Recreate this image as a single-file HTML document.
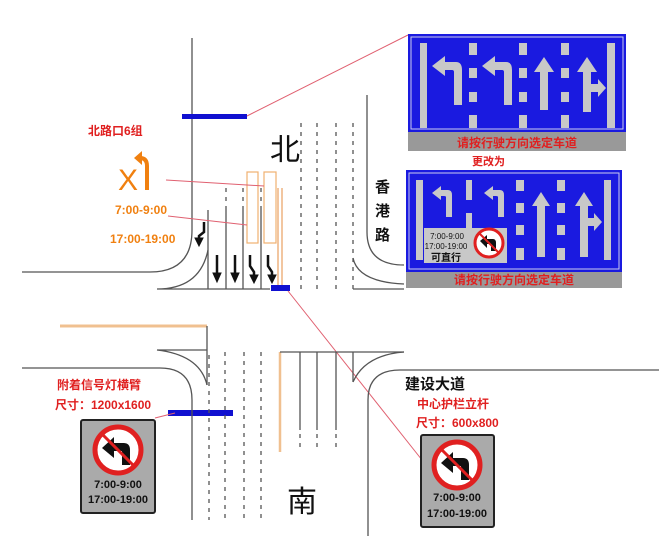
<!DOCTYPE html>
<html><head><meta charset="utf-8"><style>
html,body{margin:0;padding:0;background:#fff;}
svg{display:block;}
text{font-family:"Liberation Sans","Noto Sans CJK SC",sans-serif;}
.k{fill:none;stroke:#555;stroke-width:1.3}
.d{fill:none;stroke:#555;stroke-width:1.3;stroke-dasharray:4 5}
</style></head><body>
<svg width="659" height="536" viewBox="0 0 659 536" xmlns="http://www.w3.org/2000/svg">
<!-- North road -->
<path class="k" d="M192 38 V230 Q192 272 150 272 H22"/>
<path class="k" d="M208 250 Q200 289 157 289 H270"/>
<line class="k" x1="208" y1="210" x2="208" y2="289"/>
<line class="k" x1="226" y1="210" x2="226" y2="289"/>
<line class="k" x1="243" y1="210" x2="243" y2="289"/>
<line class="k" x1="261" y1="210" x2="261" y2="289"/>
<line class="d" x1="226" y1="188" x2="226" y2="210"/>
<line class="d" x1="243" y1="188" x2="243" y2="210"/>
<line class="d" x1="261" y1="188" x2="261" y2="210"/>
<line x1="278" y1="188" x2="278" y2="289" stroke="#e8a060" stroke-width="1.2"/>
<line x1="282" y1="188" x2="282" y2="289" stroke="#e8a060" stroke-width="1.2"/>
<rect x="247" y="172" width="11" height="71" fill="none" stroke="#f0b070" stroke-width="1.2"/>
<rect x="264" y="172" width="12" height="71" fill="none" stroke="#f0b070" stroke-width="1.2"/>
<line class="d" x1="301" y1="123" x2="301" y2="290"/>
<line class="d" x1="317" y1="123" x2="317" y2="290"/>
<line class="d" x1="336" y1="123" x2="336" y2="290"/>
<line class="d" x1="353" y1="123" x2="353" y2="290"/>
<path class="k" d="M367 95 V232 Q367 265 404 265"/>
<path class="k" d="M353 258 Q358 282 404 284"/>
<line class="k" x1="353" y1="289" x2="404" y2="289"/>
<!-- lane arrows -->
<g fill="#111" stroke="#111">
<path d="M217 255 V275" stroke-width="2.5"/><path d="M213 273 L217 282 L221 273Z"/>
<path d="M235 255 V275" stroke-width="2.5"/><path d="M231 273 L235 282 L239 273Z"/>
<path d="M250 255 V266 L254 272 V277" stroke-width="2.5" fill="none"/><path d="M250 275 L254 283 L258 275Z"/>
<path d="M268 255 V266 L272 272 V277" stroke-width="2.5" fill="none"/><path d="M268 275 L272 283 L276 275Z"/>
<path d="M204 222 V232 L199 236 V240" stroke-width="2.5" fill="none"/><path d="M195 238 L199 246 L203 238Z"/>
</g>
<!-- blue bars -->
<rect x="182" y="114" width="65" height="5" fill="#1010d0"/>
<rect x="271" y="285" width="19" height="6" fill="#1010d0"/>
<rect x="168" y="410" width="65" height="6" fill="#1010d0"/>
<!-- pink leader lines -->
<g stroke="#e06070" stroke-width="1" fill="none">
<line x1="247" y1="116" x2="408" y2="35"/>
<line x1="166" y1="180" x2="264" y2="186"/>
<line x1="168" y1="216" x2="247" y2="225"/>
<line x1="288" y1="291" x2="422" y2="460"/>
<line x1="155" y1="418" x2="175" y2="413"/>
</g>
<!-- South road -->
<line x1="60" y1="326" x2="207" y2="326" stroke="#f0c090" stroke-width="3"/>
<line class="k" x1="207" y1="326" x2="207" y2="385"/>
<path class="k" d="M157 350 H207 M157 350 Q200 355 207 385"/>
<path class="k" d="M22 368 H160 Q192 368 192 400 V520"/>
<line class="d" x1="209" y1="355" x2="209" y2="520"/>
<line class="d" x1="225" y1="352" x2="225" y2="520"/>
<line class="d" x1="244" y1="352" x2="244" y2="520"/>
<line class="d" x1="261" y1="352" x2="261" y2="520"/>
<line x1="280" y1="352" x2="280" y2="452" stroke="#f0c090" stroke-width="2.5"/>
<line class="k" x1="280" y1="352" x2="404" y2="352"/>
<line class="k" x1="300" y1="352" x2="300" y2="430"/>
<line class="k" x1="317" y1="352" x2="317" y2="430"/>
<line class="k" x1="336" y1="352" x2="336" y2="430"/>
<line class="k" x1="353" y1="352" x2="353" y2="382"/>
<line class="d" x1="300" y1="434" x2="300" y2="452"/>
<line class="d" x1="317" y1="434" x2="317" y2="452"/>
<line class="d" x1="336" y1="434" x2="336" y2="452"/>
<path class="k" d="M404 352 Q365 355 353 382"/>
<path class="k" d="M368 536 V400 Q368 370 400 370 H659"/>
<!-- big labels -->
<text x="270" y="160" font-size="30" font-family="Noto Sans CJK SC" fill="#111">北</text>
<text x="287" y="512" font-size="30" font-family="Noto Sans CJK SC" fill="#111">南</text>
<text x="375" y="192" font-size="15" font-weight="bold" fill="#111" font-family="Noto Serif CJK SC">香</text>
<text x="375" y="216" font-size="15" font-weight="bold" fill="#111" font-family="Noto Serif CJK SC">港</text>
<text x="375" y="240" font-size="15" font-weight="bold" fill="#111" font-family="Noto Serif CJK SC">路</text>
<text x="405" y="389" font-size="15" font-weight="bold" fill="#111" font-family="Noto Serif CJK SC">建设大道</text>
<text x="417" y="408" font-size="12" font-weight="bold" fill="#e02020">中心护栏立杆</text>
<text x="416" y="427" font-size="12" font-weight="bold" fill="#e02020">尺寸：600x800</text>
<text x="57" y="389" font-size="12" font-weight="bold" fill="#e02020">附着信号灯横臂</text>
<text x="55" y="409" font-size="12" font-weight="bold" fill="#e02020">尺寸：1200x1600</text>
<text x="88" y="135" font-size="12" font-weight="bold" fill="#e02020">北路口6组</text>
<text x="118" y="190" font-size="30" fill="#f08010">X</text>
<path d="M147 190 V166 Q147 158 140 158" stroke="#f08010" stroke-width="4" fill="none"/>
<path d="M134 158 L142 151 L142 165Z" fill="#f08010"/>
<text x="115" y="214" font-size="12" font-weight="bold" fill="#f08010">7:00-9:00</text>
<text x="110" y="243" font-size="12" font-weight="bold" fill="#f08010">17:00-19:00</text>
<!-- Sign 1 -->
<rect x="408" y="34" width="218" height="117" fill="#999"/>
<rect x="408" y="34" width="218" height="98" fill="#1a1ae0"/>
<rect x="411" y="37" width="212" height="92" fill="none" stroke="#cce" stroke-width="1"/>
<g fill="#c8c8c8">
<rect x="420" y="43" width="7" height="85"/><rect x="607" y="43" width="8" height="85"/>
<rect x="469" y="43" width="8" height="12"/><rect x="469" y="68" width="8" height="10"/><rect x="469" y="92" width="8" height="10"/><rect x="469" y="115" width="8" height="13"/>
<rect x="519" y="43" width="8" height="12"/><rect x="519" y="68" width="8" height="10"/><rect x="519" y="92" width="8" height="10"/><rect x="519" y="115" width="8" height="13"/>
<rect x="561" y="43" width="8" height="12"/><rect x="561" y="68" width="8" height="10"/><rect x="561" y="92" width="8" height="10"/><rect x="561" y="115" width="8" height="13"/>
<path d="M432 66 L445 56 V62 H456 Q462 62 462 70 V105 H454 V72 Q454 70 452 70 H445 V76Z"/>
<path d="M482 66 L495 56 V62 H506 Q512 62 512 70 V105 H504 V72 Q504 70 502 70 H495 V76Z"/>
<path d="M544 57 L554 72 H548 V110 H540 V72 H534Z"/>
<path d="M587 57 L597 72 H591 V84 H598 V79 L606 88 L598 97 V92 H591 V112 H583 V72 H577Z"/>
</g>
<text x="517" y="147" font-size="12" font-weight="bold" fill="#e02020" text-anchor="middle">请按行驶方向选定车道</text>
<text x="472" y="165" font-size="11" font-weight="bold" fill="#e02020">更改为</text>
<!-- Sign 2 -->
<rect x="406" y="170" width="216" height="118" fill="#999"/>
<rect x="406" y="170" width="216" height="102" fill="#1a1ae0"/>
<rect x="409" y="173" width="210" height="96" fill="none" stroke="#cce" stroke-width="1"/>
<g fill="#c8c8c8">
<rect x="416" y="180" width="7" height="80"/><rect x="604" y="180" width="7" height="80"/>
<rect x="466" y="180" width="6" height="20"/><rect x="466" y="213" width="6" height="15"/>
<rect x="516" y="180" width="8" height="11"/><rect x="516" y="203" width="8" height="10"/><rect x="516" y="225" width="8" height="10"/><rect x="516" y="248" width="8" height="12"/>
<rect x="557" y="180" width="8" height="11"/><rect x="557" y="203" width="8" height="10"/><rect x="557" y="225" width="8" height="10"/><rect x="557" y="248" width="8" height="12"/>
<path d="M432 193 L441 186 V190 H448 Q452 190 452 195 V217 H446 V197 Q446 196 444 196 H441 V200Z"/>
<path d="M484 193 L493 186 V190 H500 Q504 190 504 195 V217 H498 V197 Q498 196 496 196 H493 V200Z"/>
<path d="M541 192 L550 206 H545 V257 H537 V206 H532Z"/>
<path d="M584 192 L593 206 H588 V218 H594 V213 L602 222 L594 231 V226 H588 V257 H580 V206 H575Z"/>
<rect x="424" y="228" width="83" height="35"/>
</g>
<text x="447" y="239" font-size="8" fill="#111" text-anchor="middle">7:00-9:00</text>
<text x="446" y="249" font-size="8" fill="#111" text-anchor="middle">17:00-19:00</text>
<text x="446" y="261" font-size="10" font-weight="bold" fill="#111" text-anchor="middle">可直行</text>
<circle cx="489" cy="243" r="14" fill="#fff" stroke="#e02020" stroke-width="3"/>
<path d="M480 241 L487 235 V239 H493 Q496 239 496 243 V251 H491 V244 H487 V248Z" fill="#111"/>
<line x1="479" y1="233" x2="499" y2="253" stroke="#e02020" stroke-width="2"/>
<text x="514" y="284" font-size="12" font-weight="bold" fill="#e02020" text-anchor="middle">请按行驶方向选定车道</text>
<!-- bottom signs -->
<g>
<rect x="81" y="420" width="74" height="93" rx="2" fill="#aaa" stroke="#222" stroke-width="2"/>
<circle cx="118" cy="450" r="23" fill="#fff" stroke="#e02020" stroke-width="5"/>
<path d="M102 448 L114 437 V443 H124 Q130 443 130 450 V465 H122 V451 H114 V458Z" fill="#111"/>
<line x1="102" y1="434" x2="134" y2="466" stroke="#e02020" stroke-width="3"/>
<text x="118" y="488" font-size="11" font-weight="bold" fill="#111" text-anchor="middle">7:00-9:00</text>
<text x="118" y="503" font-size="11" font-weight="bold" fill="#111" text-anchor="middle">17:00-19:00</text>
</g>
<g>
<rect x="421" y="435" width="73" height="92" rx="2" fill="#aaa" stroke="#222" stroke-width="2"/>
<circle cx="457" cy="465" r="23" fill="#fff" stroke="#e02020" stroke-width="5"/>
<path d="M441 463 L453 452 V458 H463 Q469 458 469 465 V480 H461 V466 H453 V473Z" fill="#111"/>
<line x1="441" y1="449" x2="473" y2="481" stroke="#e02020" stroke-width="3"/>
<text x="457" y="501" font-size="11" font-weight="bold" fill="#111" text-anchor="middle">7:00-9:00</text>
<text x="457" y="517" font-size="11" font-weight="bold" fill="#111" text-anchor="middle">17:00-19:00</text>
</g>
</svg>
</body></html>
